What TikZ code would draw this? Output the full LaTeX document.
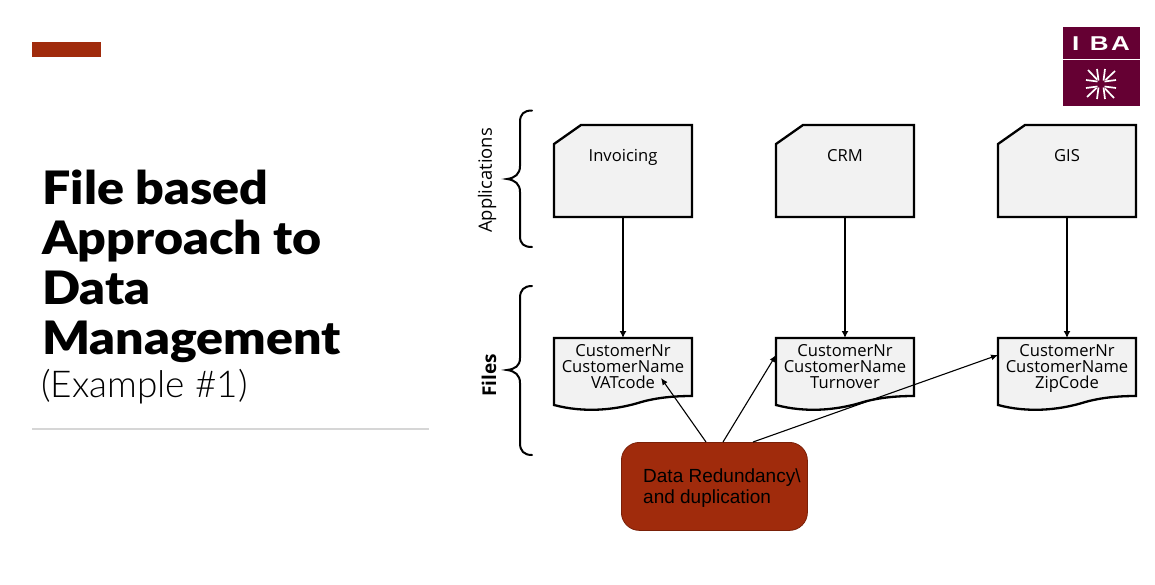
\documentclass[tikz,border=0pt]{standalone}
\usepackage{graphicx}
\usepackage{fontspec}
\setmainfont{Open Sans}
\newfontfamily\titlefont[FakeStretch=1.09]{Lato Black}
\newfontfamily\lightfont{Lato Light}
\newfontfamily\arialfont{Liberation Sans}
\usetikzlibrary{arrows.meta,calc}
\definecolor{rust}{HTML}{A02B0C}
\definecolor{rustline}{HTML}{7A2008}
\definecolor{maroon}{HTML}{650033}
\definecolor{boxfill}{HTML}{F2F2F2}
\tikzset{
  x=1pt,y=-1pt,
  shapeline/.style={draw=black,line width=2.3pt,fill=boxfill,line join=miter},
  bracestyle/.style={draw=black,line width=2pt,line cap=round},
  holder/.style={inner sep=0pt,outer sep=0pt,minimum width=138pt,anchor=north west},
  flow/.style={draw=black,line width=2.3pt,-{Latex[length=7pt,width=7pt]}},
  thinflow/.style={draw=black,line width=1.1pt,-{Latex[length=7pt,width=6pt]}},
  boxtext/.style={font=\fontsize{16.6}{16}\selectfont,align=center,inner sep=0pt},
  sidetext/.style={font=\fontsize{18.4}{20}\selectfont,rotate=90,inner sep=0pt},
  titletext/.style={font=\titlefont\fontsize{46}{50}\selectfont,anchor=base west,inner sep=0pt},
}
\newcommand{\appbox}[3]{%
  \path[shapeline] (#2,144) -- (#2+27,125) -- (#2+138,125) -- (#2+138,217) -- (#2,217) -- cycle;
  \node[holder,minimum height=92pt] (#1) at (#2,125) {};
  \node[boxtext,anchor=base] (#1t) at (#2+69,161) {#3};
}
\newcommand{\filebox}[3]{%
  \path[shapeline] (#2,338) -- (#2+138,338) -- (#2+138,396)
    .. controls (#2+118,396) and (#2+100,398) .. (#2+84,403)
    .. controls (#2+60,410) and (#2+30,413) .. (#2,405) -- cycle;
  \node[holder,minimum height=67pt] (#1) at (#2,338) {};
  \node[boxtext,anchor=north] (#1t) at (#2+69,344.2) {#3};
}
\begin{document}
\begin{tikzpicture}
\useasboundingbox (0,0) rectangle (1155,584);
\fill[white] (0,0) rectangle (1155,584);
% left panel
\fill[rust] (32,42) rectangle (101,57);
\node[titletext] (t1) at (42,204) {File based};
\node[titletext] (t2) at (42,254) {Approach to};
\node[titletext] (t3) at (42,304) {Data};
\node[titletext] (t4) at (42,354) {Management};
\node[anchor=base west,inner sep=0pt,font=\lightfont\fontsize{37}{36}\selectfont] (t5) at (41,397) {(Example \#1)};
\draw[color=black!16,line width=1.5pt] (32,429) -- (429,429);
% logo
\fill[maroon] (1063,27) rectangle (1140,106);
\draw[white,line width=0.9pt] (1063,59.5) -- (1140,59.5);
\node[text=white,inner sep=0pt,font=\arialfont\bfseries\fontsize{20}{20}\selectfont] (iba) at (1101,43.5) {\scalebox{1.3}[1]{I\hspace{8pt}B\hspace{2pt}A}};
\begin{scope}[shift={(1101,84)},white,line width=1.7pt]
  \foreach \a in {0,90,180,270}{
    \begin{scope}[rotate=\a]
      \draw (-13,-14) -- (-4,-4.5);
      \draw (-15,-4) -- (-3.5,-2.5);
      \draw (-4,-15) -- (-2.5,-3.5);
    \end{scope}
  }
\end{scope}
% braces
\draw[bracestyle] (532,110.5) .. controls (524,110.5) and (520,114) .. (520,122)
  -- (520,166) .. controls (520,174) and (515,178) .. (507,179)
  .. controls (515,180) and (520,184) .. (520,192)
  -- (520,236) .. controls (520,244) and (524,247) .. (532,247);
\draw[bracestyle] (532,286) .. controls (524,286) and (520,290) .. (520,298)
  -- (520,358) .. controls (520,366) and (515,369) .. (507,370)
  .. controls (515,371) and (520,375) .. (520,383)
  -- (520,443) .. controls (520,451) and (524,455) .. (532,455);
\node[sidetext] (apl) at (487,180.5) {Applications};
\node[sidetext,font=\bfseries\fontsize{19}{20}\selectfont] (fil) at (489,375.5) {Files};
% boxes
\appbox{appI}{554}{Invoicing}
\appbox{appC}{776}{CRM}
\appbox{appG}{998}{GIS}
\filebox{fileI}{554}{CustomerNr\\CustomerName\\VATcode}
\filebox{fileC}{776}{CustomerNr\\CustomerName\\Turnover}
\filebox{fileG}{998}{CustomerNr\\CustomerName\\ZipCode}
% red box
\node[draw=rustline,fill=rust,line width=0.8pt,rounded corners=18pt,minimum width=186pt,minimum height=88pt,inner sep=0pt,anchor=north west] (red) at (621,442) {};
\node[inner sep=0pt,anchor=north west,align=left,font=\arialfont\fontsize{19}{21}\selectfont] (redt) at (643,468.5) {Data Redundancy\textbackslash\\and duplication};
% connectors
\draw[flow] (appI.south) -- (fileI.north);
\draw[flow] (appC.south) -- (fileC.north);
\draw[flow] (appG.south) -- (fileG.north);
\coordinate (tipI) at (661,378);
\draw[thinflow] ([xshift=85pt]red.north west) -- (tipI);
\draw[thinflow] ([xshift=102pt]red.north west) -- ([yshift=-17pt]fileC.north west);
\draw[thinflow] ([xshift=132pt]red.north west) -- ([yshift=-17pt]fileG.north west);
\end{tikzpicture}
\end{document}
